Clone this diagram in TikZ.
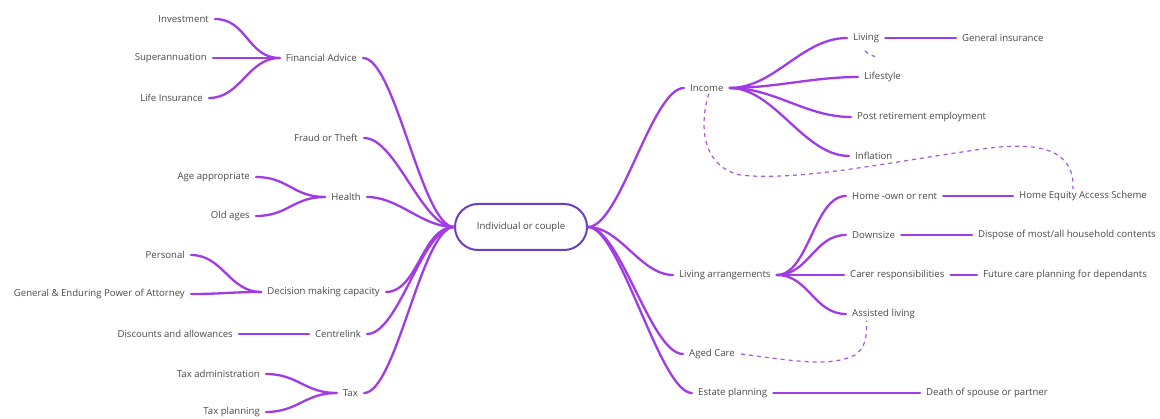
\documentclass[tikz,border=0pt]{standalone}
\usepackage{fontspec}
\setmainfont{Open Sans}
\definecolor{br}{HTML}{A03CE6}
\definecolor{dsh}{HTML}{A65BD6}
\definecolor{ctr}{HTML}{6A3FC4}
\definecolor{txt}{HTML}{4A4A4A}
\begin{document}
\begin{tikzpicture}[x=1pt,y=-1pt,
  lbl/.style={font=\fontsize{9.6}{11}\selectfont,text=txt,inner xsep=6pt,inner ysep=2pt},
  lft/.style={lbl,anchor=east},
  rgt/.style={lbl,anchor=west},
  br/.style={draw=br,line width=2.3pt,line cap=round},
  dashline/.style={draw=dsh,line width=1.2pt,dash pattern=on 4pt off 4pt}]
\useasboundingbox[fill=white] (0,0) rectangle (1160,419);
% centre
\node[draw=ctr,line width=2pt,rounded corners=23pt,minimum width=132pt,minimum height=46pt,
  font=\fontsize{9.6}{11}\selectfont,text=txt] (c) at (521,227) {Individual or couple};
% left level 1
\node[lft] (fa) at (363,58) {Financial Advice};
\node[lft] (ft) at (364,138) {Fraud or Theft};
\node[lft] (he) at (367,197) {Health};
\node[lft] (dm) at (386,292) {Decision making capacity};
\node[lft] (ce) at (367,334) {Centrelink};
\node[lft] (tx) at (364,393) {Tax};
% left level 2
\node[lft] (inv) at (215,19) {Investment};
\node[lft] (sup) at (213,58) {Superannuation};
\node[lft] (li) at (209,98) {Life Insurance};
\node[lft] (aa) at (256,177) {Age appropriate};
\node[lft] (oa) at (256,216) {Old ages};
\node[lft] (pe) at (191,255) {Personal};
\node[lft] (ge) at (191,294) {General \& Enduring Power of Attorney};
\node[lft] (da) at (239,334) {Discounts and allowances};
\node[lft] (ta) at (266,374) {Tax administration};
\node[lft] (tp) at (266,412) {Tax planning};
% right level 1
\node[rgt] (in) at (684,88) {Income};
\node[rgt] (la) at (673,275) {Living arrangements};
\node[rgt] (ac) at (683,354) {Aged Care};
\node[rgt] (ep) at (692,393) {Estate planning};
% right level 2
\node[rgt] (lv) at (847,38) {Living};
\node[rgt] (ls) at (858,77) {Lifestyle};
\node[rgt] (pr) at (851,117) {Post retirement employment};
\node[rgt] (if) at (849,156) {Inflation};
\node[rgt] (gi) at (956,38) {General insurance};
\node[rgt] (ho) at (846,196) {Home -own or rent};
\node[rgt] (ds) at (846,235) {Downsize};
\node[rgt] (cr) at (844,275) {Carer responsibilities};
\node[rgt] (al) at (846,314) {Assisted living};
\node[rgt] (hea) at (1013,196) {Home Equity Access Scheme};
\node[rgt] (dp) at (972,235) {Dispose of most/all household contents};
\node[rgt] (fc) at (977,275) {Future care planning for dependants};
\node[rgt] (dsp) at (920,393) {Death of spouse or partner};
% left connectors to centre
\foreach \n in {fa,ft,he,dm,ce,tx}
  \draw[br] (\n.east) .. controls +(32,0) and +(-32,0) .. (c.west);
% left level 2 connectors
\foreach \a/\b in {inv/fa,sup/fa,li/fa,aa/he,oa/he,pe/dm,ge/dm,ta/tx,tp/tx}
  \draw[br] (\a.east) .. controls +(32,0) and +(-32,0) .. (\b.west);
\draw[br] (da.east) -- (ce.west);
% right connectors from centre
\foreach \n in {in,la,ac,ep}
  \draw[br] (c.east) .. controls +(32,0) and +(-32,0) .. (\n.west);
\foreach \n in {lv,ls,pr,if}
  \draw[br] (in.east) .. controls +(45,0) and +(-45,0) .. (\n.west);
\foreach \n in {ho,ds,cr,al}
  \draw[br] (la.east) .. controls +(32,0) and +(-32,0) .. (\n.west);
\draw[br] (lv.east) -- (gi.west);
\draw[br] (ho.east) -- (hea.west);
\draw[br] (ds.east) -- (dp.west);
\draw[br] (cr.east) -- (fc.west);
\draw[br] (ep.east) -- (dsp.west);
% dashed links
\draw[dashline] ([xshift=2pt]in.south) .. controls +(-8,25) and (698,165) .. (740,175)
  .. controls (800,182) and (900,160) .. (990,148)
  .. controls (1040,142) and (1075,150) .. ([xshift=-10pt]hea.north);
\draw[dashline] ([xshift=-1pt,yshift=-6pt]lv.south) .. controls +(3,4) and +(-5,0) .. ([xshift=13pt,yshift=-12pt]lv.south);
\draw[dashline] (ac.east) .. controls +(48,6) and (830,368) .. (855,355)
  .. controls (865,348) and (867,338) .. ([xshift=-17pt]al.south);
\end{tikzpicture}
\end{document}
